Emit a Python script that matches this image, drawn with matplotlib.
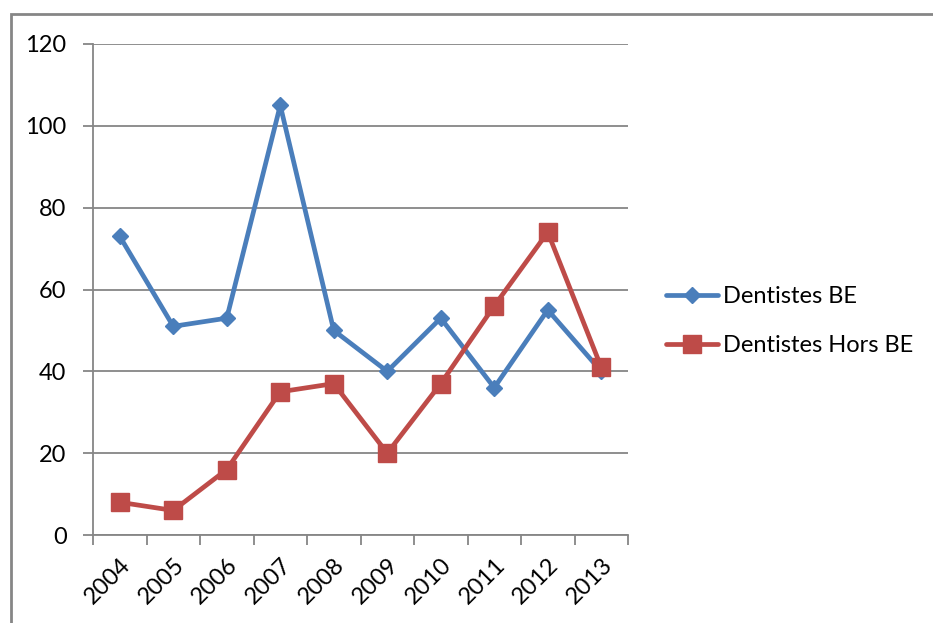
import matplotlib.pyplot as plt
from matplotlib.patches import Rectangle

years = ["2004", "2005", "2006", "2007", "2008", "2009", "2010", "2011", "2012", "2013"]
dentistes_be = [73, 51, 53, 105, 50, 40, 53, 36, 55, 40]
dentistes_hors_be = [8, 6, 16, 35, 37, 20, 37, 56, 74, 41]

plt.rcParams["font.family"] = ["Lato", "DejaVu Sans"]

W, H = 933, 623
fig = plt.figure(figsize=(W / 100, H / 100), dpi=100)
ax = fig.add_axes([93 / W, (H - 535) / H, (628 - 93) / W, (535 - 44) / H])

grid_col = "#868686"
blue = "#4A7EBB"
red = "#BE4B48"
fs = 17

x = list(range(len(years)))
ax.plot(x, dentistes_be, color=blue, lw=3.4, marker="D", markersize=8.5,
        solid_capstyle="round", solid_joinstyle="round", label="Dentistes BE", zorder=3)
ax.plot(x, dentistes_hors_be, color=red, lw=3.4, marker="s", markersize=12.5,
        solid_capstyle="round", solid_joinstyle="round", label="Dentistes Hors BE", zorder=4)

ax.set_xlim(-0.5, len(years) - 0.5)
ax.set_ylim(0, 120)
ax.set_yticks(range(0, 121, 20))
ax.yaxis.grid(True, color=grid_col, lw=1.3)
ax.set_axisbelow(True)

# category ticks sit between the points, labels under the points
ax.set_xticks([i - 0.5 for i in range(len(years) + 1)])
ax.set_xticklabels([])
ax.set_xticks(x, minor=True)
ax.set_xticklabels(years, minor=True, rotation=45, ha="right", va="top",
                   rotation_mode="anchor", fontsize=fs)
ax.tick_params(axis="x", which="minor", length=0, pad=14, labelsize=fs)
ax.tick_params(axis="x", which="major", length=7, width=1.3, color=grid_col)
ax.tick_params(axis="y", length=7, width=1.3, color=grid_col, labelsize=fs, pad=12)

for s in ["top", "right"]:
    ax.spines[s].set_visible(False)
for s in ["left", "bottom"]:
    ax.spines[s].set_color(grid_col)
    ax.spines[s].set_linewidth(1.3)

fig.legend(handles=ax.get_lines(), loc="center left",
           bbox_to_anchor=(666 / W, 1 - 321 / H), frameon=False, fontsize=fs,
           handlelength=2.2, labelspacing=1.2, handletextpad=0.2,
           borderpad=0, borderaxespad=0)

# chart border (only left/top visible in the crop)
fig.add_artist(Rectangle((11 / W, -0.1), 2, (H - 14) / H + 0.1, transform=fig.transFigure,
                         fill=False, ec=grid_col, lw=2))

fig.savefig("out.png", dpi=100)
